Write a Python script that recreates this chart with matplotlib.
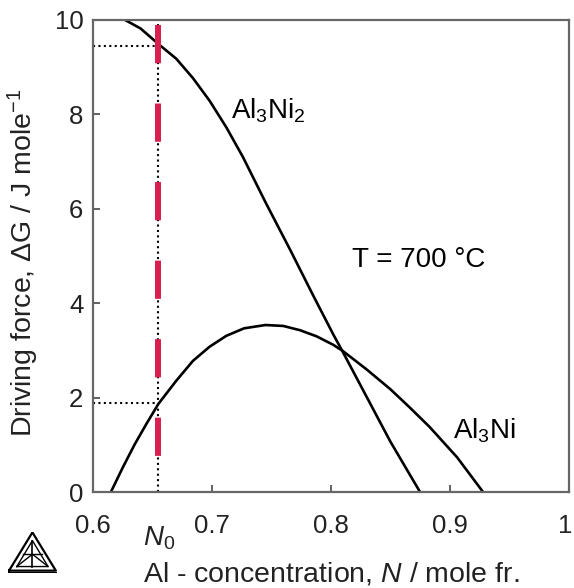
import matplotlib
matplotlib.use("Agg")
import matplotlib.pyplot as plt
import matplotlib.transforms as mtransforms

plt.rcParams['font.family'] = ['Liberation Sans', 'DejaVu Sans']
plt.rcParams['mathtext.fontset'] = 'custom'
plt.rcParams['mathtext.rm'] = 'Liberation Sans'
plt.rcParams['mathtext.it'] = 'Liberation Sans:italic'

# values
al3ni2_x = [0.627, 0.640, 0.656, 0.670, 0.684, 0.698, 0.712, 0.726, 0.745,
            0.766, 0.785, 0.802, 0.810, 0.830, 0.850, 0.875]
al3ni2_y = [10.0, 9.82, 9.47, 9.18, 8.77, 8.29, 7.73, 7.10, 6.14,
            5.12, 4.17, 3.34, 2.97, 2.02, 1.07, 0.0]

al3ni_x = [0.615, 0.625, 0.635, 0.645, 0.655, 0.670, 0.684, 0.698, 0.712, 0.727,
           0.745, 0.760, 0.774, 0.788, 0.802, 0.810, 0.830, 0.850, 0.866, 0.883,
           0.906, 0.928]
al3ni_y = [0.0, 0.52, 1.01, 1.45, 1.87, 2.36, 2.78, 3.08, 3.31, 3.47,
           3.54, 3.52, 3.43, 3.30, 3.12, 2.99, 2.60, 2.18, 1.80, 1.38,
           0.74, 0.0]

n0 = 0.6545
dg_al3ni2_n0 = 9.45
dg_al3ni_n0 = 1.88

xticks = [0.6, 0.7, 0.8, 0.9, 1.0]
xticklabels = ["0.6", "0.7", "0.8", "0.9", "1"]
yticks = [0, 2, 4, 6, 8, 10]

fig = plt.figure(figsize=(5.74, 5.88), dpi=100)
ax = fig.add_axes([0.162, 0.163, 0.829, 0.803])

ax.plot(al3ni2_x, al3ni2_y, color="black", lw=1.9, solid_joinstyle="round")
ax.plot(al3ni_x, al3ni_y, color="black", lw=1.9, solid_joinstyle="round")

# guide lines at N0
dots = (0, (1, 1.6))
ax.plot([n0, n0], [0, 10], color="black", lw=1.5, ls=dots)
ax.plot([0.6, n0], [dg_al3ni2_n0] * 2, color="black", lw=1.5, ls=dots)
ax.plot([0.6, n0], [dg_al3ni_n0] * 2, color="black", lw=1.5, ls=dots)
ax.plot([n0, n0], [9.89, 0], color="#d81f4f", lw=4.3, ls=(0, (6.4, 6.75)),
        dash_capstyle="butt")

ax.text(0.716, 7.92, r"Al$_3$Ni$_2$", fontsize=20, va="baseline", ha="left")
ax.text(0.818, 4.77, "T = 700 °C", fontsize=20, va="baseline", ha="left")
ax.text(0.9025, 1.14, r"Al$_3$Ni", fontsize=20, va="baseline", ha="left")

ax.set_xlim(0.6, 1.0)
ax.set_ylim(0, 10)
ax.set_xticks(xticks)
ax.set_xticklabels(xticklabels)
ax.set_yticks(yticks)
ax.tick_params(direction="in", length=5, width=1.3, color="#555555",
               labelsize=18.5, colors="#222222")
ax.tick_params(axis="x", pad=16)
ax.tick_params(axis="y", pad=7)
for sp in ax.spines.values():
    sp.set_color("#666666")
    sp.set_linewidth(1.6)

# keep the "1" label inside the picture
last = ax.get_xticklabels()[-1]
last.set_transform(last.get_transform() +
                   mtransforms.ScaledTranslation(-4 / 100, 0, fig.dpi_scale_trans))

ax.text(0.642, -1.12, r"$N_0$", fontsize=20, ha="left", va="baseline", color="#222222")

fig.text(331 / 574, 0.011, r"Al - concentration, $N$ / mole fr.", fontsize=20.5,
         ha="center", va="baseline", color="#222222")
fig.text(0.04, 0.553, r"Driving force, $\Delta$G / J mole$^{-1}$", fontsize=20.5,
         ha="center", va="center", rotation=90, color="#222222")

# small triangular logo at bottom-left
logo = fig.add_axes([0.014, 0.026, 0.085, 0.07])
logo.set_xlim(0, 1)
logo.set_ylim(0, 1)
logo.axis("off")
logo.plot([0.02, 0.98, 0.5, 0.02], [0.05, 0.05, 0.98, 0.05], color="black", lw=1.6)
logo.plot([0.0, 1.0], [0.0, 0.0], color="black", lw=1.6)
logo.plot([0.18, 0.82, 0.5, 0.18], [0.15, 0.15, 0.78, 0.15], color="black", lw=1)
logo.plot([0.5, 0.5], [0.15, 0.78], color="black", lw=1.2)
logo.plot([0.3, 0.7], [0.45, 0.45], color="black", lw=1)
logo.plot([0.18, 0.5, 0.82], [0.15, 0.45, 0.15], color="black", lw=1)

fig.savefig("out.png", dpi=100)
